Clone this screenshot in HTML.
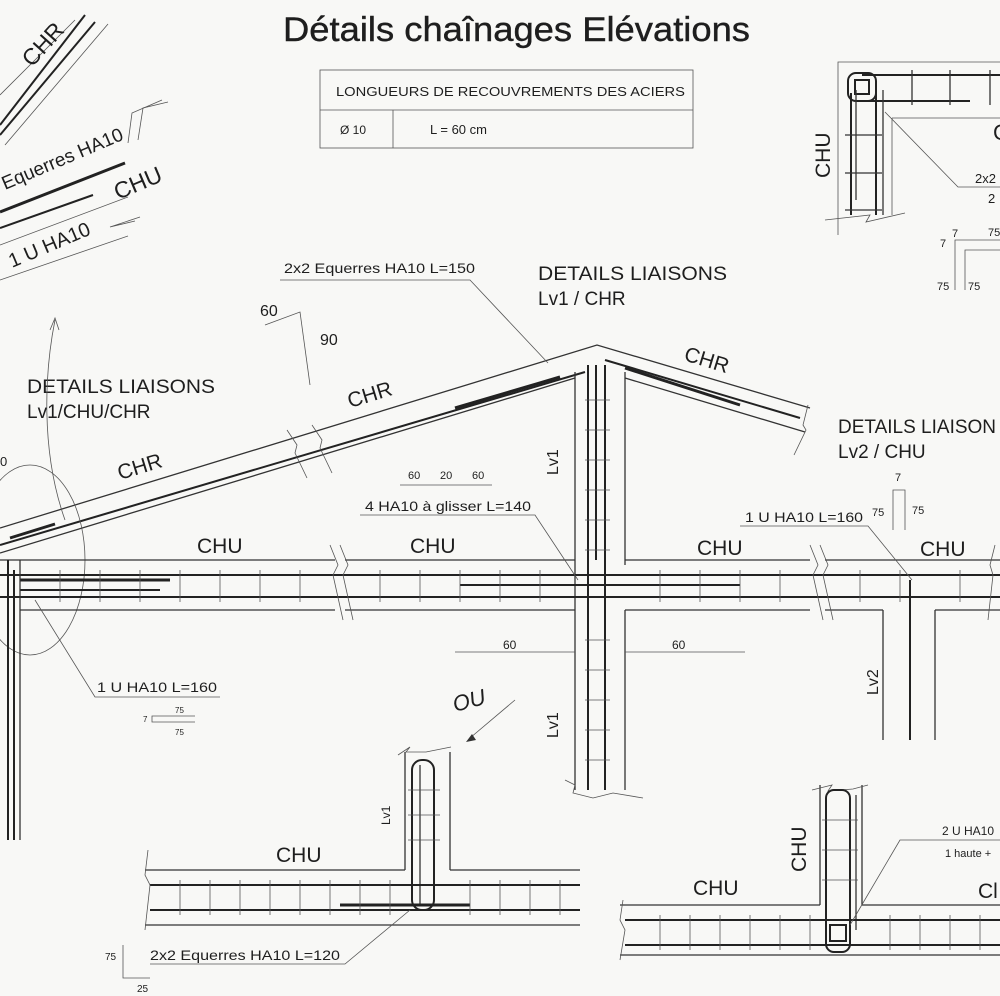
<!DOCTYPE html>
<html><head><meta charset="utf-8"><style>
html,body{margin:0;padding:0;background:#f8f8f6;}
svg{display:block;font-family:"Liberation Sans",Arial,sans-serif;}
.l{stroke:#333;stroke-width:1.3;fill:none}
.t{stroke:#555;stroke-width:0.8;fill:none}
.b{stroke:#222;stroke-width:3;fill:none}
.r{stroke:#222;stroke-width:2;fill:none}
text{fill:#1e1e1e}
</style></head><body>
<svg width="1000" height="996" viewBox="0 0 1000 996">
<rect width="1000" height="996" fill="#f8f8f6"/>
<!-- title -->
<text x="283" y="41" font-size="34" textLength="467" lengthAdjust="spacingAndGlyphs" stroke="#1e1e1e" stroke-width="0.4">Détails chaînages Elévations</text>
<!-- table -->
<rect x="320" y="70" width="373" height="78" class="t" stroke-width="1.2"/>
<line x1="320" y1="110" x2="693" y2="110" class="t"/>
<line x1="393" y1="110" x2="393" y2="148" class="t"/>
<text x="336" y="96" font-size="13" textLength="349" lengthAdjust="spacingAndGlyphs">LONGUEURS DE RECOUVREMENTS DES ACIERS</text>
<text x="340" y="134" font-size="12">Ø 10</text>
<text x="430" y="134" font-size="13">L = 60 cm</text>

<!-- top-left rotated detail -->
<g>
<line x1="0" y1="95" x2="75" y2="20" class="t"/>
<line x1="0" y1="125" x2="85" y2="15" class="r"/>
<line x1="0" y1="135" x2="95" y2="22" class="r"/>
<line x1="5" y1="145" x2="108" y2="24" class="t"/>
<text transform="translate(32,68) rotate(-48)" font-size="23">CHR</text>
<polyline points="128,143 132,113 162,100" class="t"/>
<polyline points="138,140 143,108 168,102" class="t"/>
<text transform="translate(5,190) rotate(-23)" font-size="19">Equerres HA10</text>
<line x1="0" y1="212" x2="125" y2="163" class="b"/>
<line x1="0" y1="228" x2="93" y2="195" class="r"/>
<line x1="0" y1="245" x2="128" y2="197" class="t"/>
<text transform="translate(118,200) rotate(-23)" font-size="23">CHU</text>
<text transform="translate(12,268) rotate(-23)" font-size="20">1 U HA10</text>
<polyline points="140,217 110,227 135,221" class="t"/>
<line x1="0" y1="280" x2="128" y2="236" class="t"/>
</g>

<!-- top-right corner detail -->
<g>
<polyline points="838,235 838,62 1000,62" class="t"/>
<polyline points="825,220 870,215 866,222 905,213" class="t"/>
<rect x="848" y="73" width="28" height="28" rx="8" class="r"/>
<rect x="855" y="80" width="14" height="14" class="r"/>
<line x1="862" y1="75" x2="1000" y2="75" class="r"/>
<line x1="866" y1="101" x2="970" y2="101" class="r"/>
<line x1="851" y1="93" x2="851" y2="215" class="r"/>
<line x1="876" y1="90" x2="876" y2="215" class="r"/>
<line x1="883" y1="90" x2="883" y2="215" class="l"/>
<line x1="892" y1="118" x2="892" y2="215" class="t"/>
<line x1="892" y1="118" x2="1000" y2="118" class="t"/>
<line x1="856" y1="90" x2="856" y2="200" class="l"/>
<g class="l"><line x1="912" y1="70" x2="912" y2="105"/><line x1="950" y1="70" x2="950" y2="105"/><line x1="990" y1="70" x2="990" y2="105"/>
<line x1="845" y1="135" x2="882" y2="135"/><line x1="845" y1="173" x2="882" y2="173"/><line x1="845" y1="210" x2="882" y2="210"/></g>
<text transform="translate(830,178) rotate(-90)" font-size="21">CHU</text>
<text x="993" y="140" font-size="22">C</text>
<polyline points="885,112 958,187 1000,187" class="t"/>
<text x="975" y="183" font-size="13">2x2</text>
<text x="988" y="203" font-size="13">2</text>
<text x="952" y="237" font-size="11">7</text><text x="988" y="236" font-size="11">75</text>
<text x="940" y="247" font-size="11">7</text>
<polyline points="955,290 955,240 1000,240" class="t"/>
<polyline points="965,290 965,250 1000,250" class="t"/>
<text x="937" y="290" font-size="11">75</text><text x="968" y="290" font-size="11">75</text>
</g>

<!-- roof CHR -->
<g>
<polyline points="0,528 597,345 810,408" class="l"/>
<polyline points="0,553 575,378" class="l"/>
<polyline points="625,378 805,432" class="l"/>
<line x1="0" y1="545" x2="585" y2="372" class="r"/>
<line x1="10" y1="538" x2="55" y2="524" class="b"/>
<line x1="455" y1="408" x2="560" y2="377" class="b"/>
<line x1="625" y1="368" x2="740" y2="405" class="b"/>
<line x1="605" y1="360" x2="800" y2="418" class="r"/>
<path d="M287,430 l10,15 l-2,8 l12,25" class="t"/>
<path d="M312,425 l10,15 l-2,8 l12,25" class="t"/>
<path d="M808,405 l-5,20 l3,5 l-12,25" class="t"/>
<text transform="translate(120,480) rotate(-17)" font-size="21">CHR</text>
<text transform="translate(350,408) rotate(-17)" font-size="21">CHR</text>
<text transform="translate(683,360) rotate(17)" font-size="21">CHR</text>
</g>
<!-- 60/90 angle -->
<polyline points="265,325 300,312 310,385" class="t"/>
<text x="260" y="316" font-size="16">60</text>
<text x="320" y="345" font-size="16">90</text>
<text x="284" y="273" font-size="14" textLength="191" lengthAdjust="spacingAndGlyphs">2x2 Equerres HA10  L=150</text>
<polyline points="280,280 470,280 548,363" class="t"/>
<text x="538" y="280" font-size="19" textLength="189" lengthAdjust="spacingAndGlyphs">DETAILS LIAISONS</text>
<text x="538" y="305" font-size="19">Lv1 / CHR</text>
<text x="27" y="393" font-size="19" textLength="188" lengthAdjust="spacingAndGlyphs">DETAILS LIAISONS</text>
<text x="27" y="418" font-size="19">Lv1/CHU/CHR</text>
<text x="838" y="433" font-size="19">DETAILS LIAISON</text>
<text x="838" y="458" font-size="19">Lv2 / CHU</text>
<path d="M65,520 C40,450 45,370 55,320" class="t"/>
<path d="M50,330 l5,-12 l4,12" class="t"/>
<ellipse cx="30" cy="560" rx="55" ry="95" class="t"/>

<!-- Lv1 column -->
<g>
<line x1="575" y1="372" x2="575" y2="790" class="l"/>
<line x1="625" y1="372" x2="625" y2="565" class="l"/>
<line x1="625" y1="610" x2="625" y2="790" class="l"/>
<line x1="588" y1="365" x2="588" y2="790" class="r"/>
<line x1="605" y1="365" x2="605" y2="790" class="r"/>
<line x1="596" y1="365" x2="596" y2="560" class="r"/>
<path d="M565,780 l10,5 l-2,8 l20,5 l20,-5 l30,5" class="t"/>
<g class="t"><line x1="585" y1="400" x2="610" y2="400"/><line x1="585" y1="430" x2="610" y2="430"/><line x1="585" y1="460" x2="610" y2="460"/><line x1="585" y1="490" x2="610" y2="490"/><line x1="585" y1="520" x2="610" y2="520"/><line x1="585" y1="550" x2="610" y2="550"/>
<line x1="585" y1="640" x2="610" y2="640"/><line x1="585" y1="670" x2="610" y2="670"/><line x1="585" y1="700" x2="610" y2="700"/><line x1="585" y1="730" x2="610" y2="730"/><line x1="585" y1="760" x2="610" y2="760"/></g>
<text transform="translate(558,475) rotate(-90)" font-size="16">Lv1</text>
<text transform="translate(558,738) rotate(-90)" font-size="16">Lv1</text>
</g>

<!-- CHU main beam -->
<g>
<line x1="0" y1="560" x2="335" y2="560" class="l"/><line x1="345" y1="560" x2="575" y2="560" class="l"/>
<line x1="625" y1="560" x2="810" y2="560" class="l"/><line x1="825" y1="560" x2="1000" y2="560" class="l"/>
<line x1="20" y1="610" x2="335" y2="610" class="l"/><line x1="345" y1="610" x2="575" y2="610" class="l"/>
<line x1="625" y1="610" x2="810" y2="610" class="l"/><line x1="825" y1="610" x2="883" y2="610" class="l"/><line x1="935" y1="610" x2="1000" y2="610" class="l"/>
<line x1="0" y1="575" x2="1000" y2="575" class="r"/>
<line x1="0" y1="597" x2="1000" y2="597" class="r"/>
<line x1="20" y1="580" x2="170" y2="580" class="b"/>
<line x1="20" y1="590" x2="160" y2="590" class="r"/>
<line x1="460" y1="585" x2="740" y2="585" class="r"/>
<path d="M330,545 l8,20 l-5,10 l10,45" class="t" stroke-width="1.3"/>
<path d="M340,545 l8,20 l-5,10 l10,45" class="t"/>
<path d="M810,545 l8,20 l-5,10 l10,45" class="t"/>
<path d="M820,545 l8,20 l-5,10 l10,45" class="t"/>
<path d="M995,545 l-5,20 l3,10 l-5,45" class="t"/>
<g class="t">
<line x1="60" y1="570" x2="60" y2="602"/><line x1="100" y1="570" x2="100" y2="602"/><line x1="140" y1="570" x2="140" y2="602"/><line x1="180" y1="570" x2="180" y2="602"/><line x1="220" y1="570" x2="220" y2="602"/><line x1="260" y1="570" x2="260" y2="602"/><line x1="300" y1="570" x2="300" y2="602"/>
<line x1="380" y1="570" x2="380" y2="602"/><line x1="420" y1="570" x2="420" y2="602"/><line x1="460" y1="570" x2="460" y2="602"/><line x1="500" y1="570" x2="500" y2="602"/><line x1="540" y1="570" x2="540" y2="602"/>
<line x1="660" y1="570" x2="660" y2="602"/><line x1="700" y1="570" x2="700" y2="602"/><line x1="740" y1="570" x2="740" y2="602"/><line x1="780" y1="570" x2="780" y2="602"/>
<line x1="860" y1="570" x2="860" y2="602"/><line x1="900" y1="570" x2="900" y2="602"/><line x1="960" y1="570" x2="960" y2="602"/></g>
<text x="197" y="553" font-size="21">CHU</text>
<text x="410" y="553" font-size="21">CHU</text>
<text x="697" y="555" font-size="21">CHU</text>
<text x="920" y="556" font-size="21">CHU</text>
<text x="408" y="479" font-size="11">60</text><text x="440" y="479" font-size="11">20</text><text x="472" y="479" font-size="11">60</text>
<line x1="400" y1="485" x2="492" y2="485" class="t"/>
<text x="365" y="511" font-size="14" textLength="166" lengthAdjust="spacingAndGlyphs">4 HA10 à glisser  L=140</text>
<polyline points="360,515 535,515 578,580" class="t"/>
<line x1="455" y1="652" x2="575" y2="652" class="t"/><text x="503" y="649" font-size="12">60</text>
<line x1="625" y1="652" x2="745" y2="652" class="t"/><text x="672" y="649" font-size="12">60</text>
</g>
<!-- Lv2 -->
<g>
<line x1="883" y1="610" x2="883" y2="740" class="l"/>
<line x1="935" y1="610" x2="935" y2="740" class="l"/>
<line x1="910" y1="580" x2="910" y2="740" class="r"/>
<text transform="translate(878,695) rotate(-90)" font-size="16">Lv2</text>
<text x="745" y="522" font-size="14" textLength="118" lengthAdjust="spacingAndGlyphs">1 U HA10  L=160</text>
<polyline points="740,526 868,526 912,580" class="t"/>
<text x="895" y="481" font-size="11">7</text>
<text x="872" y="516" font-size="11">75</text><text x="912" y="514" font-size="11">75</text>
<path d="M893,530 v-40 h12 v40" class="t"/>
</g>
<!-- left column -->
<g>
<line x1="20" y1="560" x2="20" y2="840" class="l"/>
<line x1="8" y1="560" x2="8" y2="840" class="r"/>
<line x1="14" y1="570" x2="14" y2="840" class="r"/>
<text x="97" y="692" font-size="14" textLength="120" lengthAdjust="spacingAndGlyphs">1 U HA10  L=160</text>
<polyline points="220,697 95,697 35,600" class="t"/>
<text x="143" y="722" font-size="8">7</text><text x="175" y="713" font-size="8">75</text><text x="175" y="735" font-size="8">75</text>
<path d="M195,716 h-43 v6 h43" class="t"/>
<text x="0" y="466" font-size="13">0</text>
</g>

<!-- bottom center -->
<g>
<text transform="translate(455,712) rotate(-15)" font-size="22" font-style="italic">OU</text>
<line x1="470" y1="738" x2="515" y2="700" class="t"/>
<path d="M466,742 l10,-2 l-4,-6z" fill="#333"/>
<line x1="405" y1="752" x2="405" y2="870" class="l"/>
<line x1="450" y1="752" x2="450" y2="870" class="l"/>
<path d="M398,755 l12,-8 l-4,5 l20,0 l25,-5" class="t"/>
<rect x="412" y="760" width="22" height="150" rx="10" class="r"/>
<line x1="420" y1="765" x2="420" y2="905" class="l"/>
<g class="t"><line x1="408" y1="790" x2="440" y2="790"/><line x1="408" y1="815" x2="440" y2="815"/><line x1="408" y1="840" x2="440" y2="840"/></g>
<text transform="translate(390,825) rotate(-90)" font-size="12">Lv1</text>
<line x1="145" y1="870" x2="405" y2="870" class="l"/><line x1="450" y1="870" x2="580" y2="870" class="l"/>
<line x1="145" y1="925" x2="580" y2="925" class="l"/>
<line x1="150" y1="885" x2="580" y2="885" class="r"/>
<line x1="150" y1="910" x2="580" y2="910" class="r"/>
<line x1="340" y1="905" x2="470" y2="905" class="b"/>
<path d="M148,850 l-3,25 l5,10 l-5,45" class="t"/>
<g class="t"><line x1="180" y1="880" x2="180" y2="915"/><line x1="210" y1="880" x2="210" y2="915"/><line x1="240" y1="880" x2="240" y2="915"/><line x1="270" y1="880" x2="270" y2="915"/><line x1="300" y1="880" x2="300" y2="915"/><line x1="330" y1="880" x2="330" y2="915"/><line x1="360" y1="880" x2="360" y2="915"/><line x1="390" y1="880" x2="390" y2="915"/><line x1="470" y1="880" x2="470" y2="915"/><line x1="500" y1="880" x2="500" y2="915"/><line x1="530" y1="880" x2="530" y2="915"/><line x1="560" y1="880" x2="560" y2="915"/></g>
<text x="276" y="862" font-size="21">CHU</text>
<text x="150" y="960" font-size="14" textLength="190" lengthAdjust="spacingAndGlyphs">2x2 Equerres HA10  L=120</text>
<polyline points="150,964 345,964 410,910" class="t"/>
<polyline points="123,945 123,978 150,978" class="t"/>
<text x="105" y="960" font-size="10">75</text><text x="137" y="992" font-size="10">25</text>
</g>

<!-- bottom right -->
<g>
<line x1="820" y1="785" x2="820" y2="905" class="l"/>
<line x1="862" y1="785" x2="862" y2="905" class="l"/>
<path d="M812,790 l20,-5 l-4,6 l25,-2 l15,-4" class="t"/>
<rect x="826" y="790" width="24" height="162" rx="8" class="r"/>
<rect x="830" y="925" width="16" height="16" class="r"/>
<line x1="856" y1="795" x2="856" y2="930" class="l"/>
<g class="t"><line x1="822" y1="820" x2="858" y2="820"/><line x1="822" y1="850" x2="858" y2="850"/><line x1="822" y1="880" x2="858" y2="880"/></g>
<text transform="translate(806,872) rotate(-90)" font-size="21">CHU</text>
<line x1="620" y1="905" x2="820" y2="905" class="l"/><line x1="862" y1="905" x2="1000" y2="905" class="l"/>
<line x1="620" y1="955" x2="1000" y2="955" class="l"/>
<line x1="625" y1="920" x2="1000" y2="920" class="r"/>
<line x1="625" y1="945" x2="1000" y2="945" class="r"/>
<path d="M623,900 l-3,20 l5,10 l-5,30" class="t"/>
<g class="t"><line x1="660" y1="915" x2="660" y2="950"/><line x1="690" y1="915" x2="690" y2="950"/><line x1="720" y1="915" x2="720" y2="950"/><line x1="750" y1="915" x2="750" y2="950"/><line x1="780" y1="915" x2="780" y2="950"/><line x1="810" y1="915" x2="810" y2="950"/><line x1="890" y1="915" x2="890" y2="950"/><line x1="920" y1="915" x2="920" y2="950"/><line x1="950" y1="915" x2="950" y2="950"/><line x1="980" y1="915" x2="980" y2="950"/></g>
<text x="693" y="895" font-size="21">CHU</text>
<text x="978" y="898" font-size="21">Cl</text>
<text x="942" y="835" font-size="12">2 U HA10</text>
<text x="945" y="857" font-size="11">1 haute +</text>
<polyline points="1000,840 900,840 850,925" class="t"/>
</g>
</svg>
</body></html>
